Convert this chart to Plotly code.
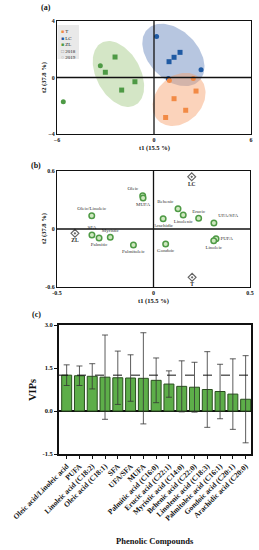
import numpy as np
import plotly.graph_objects as go

W, H = 259, 550

# ---------------- Panel (a) data: PLS-DA scores ----------------
groups = ["T", "LC", "ZL"]
group_colors = {"T": "#F28A45", "LC": "#1F5AA3", "ZL": "#4E9A45"}
group_fill = {"T": "rgba(247,158,104,0.45)", "LC": "rgba(96,129,187,0.45)", "ZL": "rgba(160,200,129,0.45)"}
years = ["2018", "2019"]
year_symbols = {"2018": "square", "2019": "circle"}

T_t1 = [0.95, 2.43, 2.60, 1.24, 1.96, 0.72]
T_t2 = [-0.21, -0.07, -0.96, -1.50, -2.32, -2.83]
T_year = ["2019", "2019", "2018", "2018", "2018", "2018"]

LC_t1 = [0.16, 1.61, 1.24, 0.93, 2.91, 0.89]
LC_t2 = [2.90, 1.78, 1.43, 1.12, 0.54, -0.07]
LC_year = ["2019", "2018", "2018", "2018", "2019", "2019"]

ZL_t1 = [-2.41, -3.32, -3.01, -1.18, -2.00, -5.61]
ZL_t2 = [1.45, 0.84, 0.37, -0.30, -0.89, -1.71]
ZL_year = ["2018", "2019", "2018", "2018", "2018", "2019"]

# confidence ellipses: centre, semi-axes, rotation (deg)
ell_groups = ["ZL", "LC", "T"]
ell_cx = [-2.20, 1.20, 1.55]
ell_cy = [0.25, 1.60, -1.55]
ell_a = [2.45, 2.45, 2.00]
ell_b = [1.40, 1.60, 1.50]
ell_theta = [-68, -55, 60]

# ---------------- Panel (b) data: loadings ----------------
load_names = ["Oleic", "MUFA", "Oleic/Linoleic", "SFA", "Palmitic", "Myristic", "Palmitoleic",
              "Behenic", "Linolenic", "Arachidic", "Erucic", "UFA/SFA", "PUFA", "Linoleic", "Gondoic"]
load_x = [-0.056, -0.054, -0.320, -0.319, -0.282, -0.224, -0.104,
          0.127, 0.154, 0.050, 0.234, 0.313, 0.324, 0.312, 0.063]
load_y = [0.344, 0.320, 0.138, -0.062, -0.093, -0.086, -0.165,
          0.210, 0.145, 0.107, 0.110, 0.062, -0.100, -0.121, -0.155]
load_pos = ["top left", "bottom center", "top center", "top center", "bottom center", "top center",
            "bottom center", "top left", "bottom center", "bottom center", "top center", "top right",
            "middle right", "bottom center", "bottom center"]

cls_names = ["LC", "ZL", "T"]
cls_x = [0.198, -0.407, 0.200]
cls_y = [0.540, -0.045, -0.500]

# ---------------- Panel (c) data: VIPs ----------------
compounds = ["Oleic acid/Linoleic acid", "PUFA", "Linoleic acid (C18:2)", "Oleic acid (C18:1)", "SFA",
             "UFA/SFA", "MUFA", "Palmitic acid (C16:0)", "Erucic acid (C22:1)", "Myristic acid (C14:0)",
             "Behenic acid (C22:0)", "Linolenic acid (C18:3)", "Palmitoleic acid (C16:1)",
             "Gondoic acid (C20:1)", "Arachidic acid (C20:0)"]
vip = [1.25, 1.23, 1.21, 1.18, 1.16, 1.15, 1.14, 1.07, 0.94, 0.86, 0.83, 0.75, 0.68, 0.59, 0.41]
vip_err = [0.36, 0.34, 0.44, 1.47, 0.93, 0.81, 1.59, 0.78, 0.46, 0.89, 0.87, 1.32, 0.95, 1.23, 1.52]
vip_threshold = 1.25

SERIF = "Liberation Serif"


def px_x(p):
    return p / W


def px_y(p):
    return 1 - p / H


def ellipse(cx, cy, a, b, th, n=120):
    t = np.linspace(0, 2 * np.pi, n)
    r = np.deg2rad(th)
    x = cx + a * np.cos(t) * np.cos(r) - b * np.sin(t) * np.sin(r)
    y = cy + a * np.cos(t) * np.sin(r) + b * np.sin(t) * np.cos(r)
    return x, y


fig = go.Figure()

# ---- Panel (a)
for g, cx, cy, a, b, th in zip(ell_groups, ell_cx, ell_cy, ell_a, ell_b, ell_theta):
    ex, ey = ellipse(cx, cy, a, b, th)
    fig.add_trace(go.Scatter(x=ex, y=ey, mode="lines", fill="toself", fillcolor=group_fill[g],
                             line=dict(width=0), showlegend=False, hoverinfo="skip",
                             xaxis="x", yaxis="y"))

score_data = {"T": (T_t1, T_t2, T_year), "LC": (LC_t1, LC_t2, LC_year), "ZL": (ZL_t1, ZL_t2, ZL_year)}
for g in ["ZL", "LC", "T"]:
    xs, ys, yr = score_data[g]
    fig.add_trace(go.Scatter(x=xs, y=ys, mode="markers",
                             marker=dict(color=group_colors[g], size=5,
                                         symbol=[year_symbols[v] for v in yr], line=dict(width=0)),
                             showlegend=False, xaxis="x", yaxis="y"))

# ---- Panel (b)
fig.add_trace(go.Scatter(x=load_x, y=load_y, mode="markers+text", text=load_names,
                         textposition=load_pos,
                         textfont=dict(family=SERIF, size=5, color="#333333"),
                         marker=dict(symbol="circle", size=5.5, color="#cfe8c0",
                                     line=dict(color="#4E9A45", width=1.5)),
                         showlegend=False, xaxis="x2", yaxis="y2", cliponaxis=False))
fig.add_trace(go.Scatter(x=cls_x, y=cls_y, mode="markers+text", text=cls_names,
                         textposition="bottom center",
                         textfont=dict(family=SERIF, size=5.5, color="#222222", weight="bold"),
                         marker=dict(symbol="diamond-open-dot", size=6, color="#666666",
                                     line=dict(width=1.2)),
                         showlegend=False, xaxis="x2", yaxis="y2", cliponaxis=False))

# ---- Panel (c)
fig.add_trace(go.Bar(x=list(range(len(compounds))), y=vip, width=0.78,
                     marker=dict(color="#5DAE49", line=dict(color="#2A4F1F", width=1)),
                     error_y=dict(type="data", array=vip_err, visible=True, color="#333333",
                                  thickness=0.8, width=3),
                     showlegend=False, xaxis="x3", yaxis="y3"))

common_font = dict(family=SERIF, size=6, color="#111111", weight="bold")

lay = dict(
    width=W, height=H, margin=dict(l=0, r=0, t=0, b=0),
    paper_bgcolor="white", plot_bgcolor="white", showlegend=False,
    font=dict(family=SERIF),
    xaxis=dict(domain=[px_x(57), px_x(251)], range=[-6, 6], tickvals=[-6, 0, 6],
               showgrid=False, zeroline=False, showline=True, mirror=True, linecolor="#111",
               linewidth=1.3, ticks="", tickfont=common_font, anchor="y", automargin=False),
    yaxis=dict(domain=[px_y(134), px_y(21)], range=[-4, 4], tickvals=[-4, 0, 4],
               showgrid=False, zeroline=False, showline=True, mirror=True, linecolor="#111",
               linewidth=1.3, ticks="", tickfont=common_font, anchor="x", automargin=False),
    xaxis2=dict(domain=[px_x(57), px_x(250)], range=[-0.5, 0.5], tickvals=[-0.5, 0, 0.5],
                ticktext=["-0.5", "0", "0.5"],
                showgrid=False, zeroline=False, showline=True, mirror=True, linecolor="#111",
                linewidth=1.3, ticks="", tickfont=common_font, anchor="y2", automargin=False),
    yaxis2=dict(domain=[px_y(287), px_y(171)], range=[-0.6, 0.6], tickvals=[-0.6, 0, 0.6],
                ticktext=["-0.6", "0", "0.6"],
                showgrid=False, zeroline=False, showline=True, mirror=True, linecolor="#111",
                linewidth=1.3, ticks="", tickfont=common_font, anchor="x2", automargin=False),
    xaxis3=dict(domain=[px_x(59), px_x(251)], range=[-0.6, 14.42],
                tickvals=list(range(len(compounds))), ticktext=compounds, tickangle=-45,
                showgrid=False, zeroline=False, showline=True, mirror=True, linecolor="#111",
                linewidth=1.8, ticks="outside", ticklen=3, tickwidth=1, tickcolor="#111",
                tickfont=dict(family=SERIF, size=7.5, color="#111", weight="bold"),
                anchor="y3", automargin=False),
    yaxis3=dict(domain=[px_y(454), px_y(325)], range=[-1.5, 3.0], tickvals=[-1.5, 0, 1.5, 3.0],
                ticktext=["-1.5", "0.0", "1.5", "3.0"],
                showgrid=False, zeroline=True, zerolinecolor="#111", zerolinewidth=1.8,
                showline=True, mirror=True, linecolor="#111",
                linewidth=1.8, ticks="outside", ticklen=3, tickwidth=1.2, tickcolor="#111",
                tickfont=dict(family=SERIF, size=6.5, color="#111", weight="bold"),
                anchor="x3", automargin=False),
)
fig.update_layout(**lay)

shapes = []
# zero reference lines for panels (a),(b) drawn above the ellipses
for xr, yr in [("x", "y"), ("x2", "y2")]:
    shapes.append(dict(type="line", xref=xr, yref=yr + " domain", x0=0, x1=0, y0=0, y1=1,
                       line=dict(color="#111", width=1.3), layer="above"))
    shapes.append(dict(type="line", xref=xr + " domain", yref=yr, x0=0, x1=1, y0=0, y1=0,
                       line=dict(color="#111", width=1.3), layer="above"))
# VIP threshold
shapes.append(dict(type="line", xref="x3 domain", yref="y3", x0=0, x1=1,
                   y0=vip_threshold, y1=vip_threshold,
                   line=dict(color="#111", width=1, dash="dash"), layer="above"))
# legend box for panel (a)
shapes.append(dict(type="rect", xref="paper", yref="paper", x0=px_x(57.5), x1=px_x(79),
                   y0=px_y(59), y1=px_y(25), fillcolor="rgba(225,225,225,0.75)",
                   line=dict(width=0), layer="above"))
fig.update_layout(shapes=shapes)

ann = []


def add_text(txt, x, y, size, bold=True, angle=0, xanchor="center", yanchor="middle"):
    ann.append(dict(text=txt, x=px_x(x), y=px_y(y), xref="paper", yref="paper", showarrow=False,
                    font=dict(family=SERIF, size=size, color="#111", weight="bold" if bold else "normal"),
                    textangle=angle, xanchor=xanchor, yanchor=yanchor))


add_text("(a)", 46, 7.5, 8)
add_text("(b)", 36, 165, 8)
add_text("(c)", 36, 314, 8)
add_text("t1 (15.5 %)", 154, 148, 6.5)
add_text("t2 (37.8 %)", 44, 78, 6.5, angle=-90)
add_text("t1 (15.5 %)", 153, 301, 6.5)
add_text("t2 (37.8 %)", 44, 229, 6.5, angle=-90)
add_text("VIPs", 32, 390, 10.5, angle=-90)
add_text("Phenolic Compounds", 155, 541, 8.5)

# legend entries as text
legend_lines = [f"<span style='color:{group_colors[g]}'>■</span> {g}" for g in groups]
legend_lines += ["<span style='color:#888'>□</span> 2018", "<span style='color:#888'>○</span> 2019"]
ann.append(dict(text="<br>".join(legend_lines), x=px_x(59), y=px_y(27), xref="paper", yref="paper",
                showarrow=False, align="left", xanchor="left", yanchor="top",
                font=dict(family=SERIF, size=5, color="#222")))
fig.update_layout(annotations=ann)

fig.write_html("out.html", config={"displayModeBar": False},
               post_script="document.body.style.margin='0';document.body.style.overflow='hidden';")
